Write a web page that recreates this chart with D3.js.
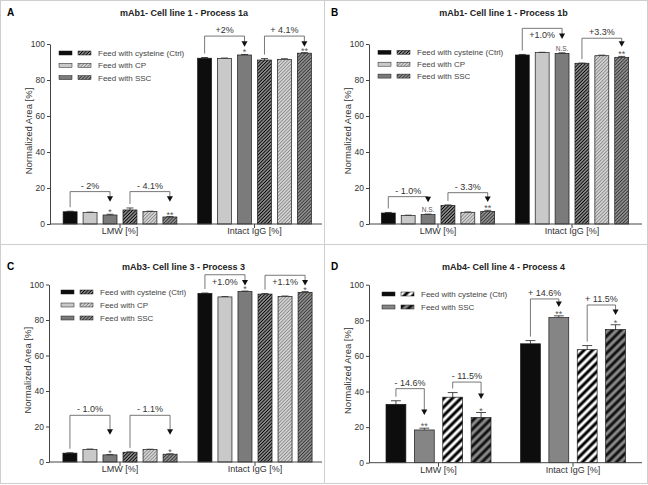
<!DOCTYPE html>
<html>
<head>
<meta charset="utf-8">
<script src="https://cdn.jsdelivr.net/npm/d3@7"></script>
<style>
body { margin: 0; background: #fff; }
svg { display: block; font-family: "Liberation Sans", Arial, sans-serif; }
</style>
</head>
<body>
<div id="chart"></div>
<script>
// ---- data ----
var categories = ["LMW [%]", "Intact IgG [%]"];
var yTicks = [0, 20, 40, 60, 80, 100];
var legend3 = ["Feed with cysteine (Ctrl)", "Feed with CP", "Feed with SSC"];
var legend2 = ["Feed with cysteine (Ctrl)", "Feed with SSC"];

var titleA = "mAb1- Cell line 1 - Process 1a";
var lmwA = [6.8, 6.4, 5.0, 7.8, 6.9, 3.9];
var lmwErrA = [0.3, 0.2, 0.4, 1.1, 0.2, 0.2];
var intactA = [92.1, 92.0, 93.9, 91.1, 91.5, 94.9];
var intactErrA = [0.4, 0.2, 0.3, 0.8, 0.3, 0.3];
var bracketsA = [
    { cat: 0, from: 0, to: 2, level: 18, tip: 12.4, label: "- 2%", sig: "*" },
    { cat: 0, from: 3, to: 5, level: 18, tip: 12.4, label: "- 4.1%", sig: "**" },
    { cat: 1, from: 0, to: 2, level: 104.4, tip: 98.5, label: "+2%", sig: "*" },
    { cat: 1, from: 3, to: 5, level: 104.4, tip: 98.5, label: "+ 4.1%", sig: "**" }
];

var titleB = "mAb1- Cell line 1 - Process 1b";
var lmwB = [6.1, 4.7, 5.2, 10.3, 6.5, 7.0];
var lmwErrB = [0.3, 0.2, 0.3, 0.3, 0.2, 0.6];
var intactB = [93.9, 95.2, 94.8, 89.3, 93.5, 92.6];
var intactErrB = [0.3, 0.2, 0.3, 0.1, 0.3, 0.5];
var bracketsB = [
    { cat: 0, from: 0, to: 2, level: 15.2, tip: 12.1, label: "- 1.0%", sig: "N.S." },
    { cat: 0, from: 3, to: 5, level: 17.4, tip: 12.2, label: "- 3.3%", sig: "**" },
    { cat: 1, from: 0, to: 2, level: 108.7, tip: 102.8, label: "+1.0%", sig: "N.S.", below: true },
    { cat: 1, from: 3, to: 5, level: 103.2, tip: 98.5, label: "+3.3%", sig: "**" }
];

var titleC = "mAb3- Cell line 3 - Process 3";
var lmwC = [5.0, 7.0, 4.0, 5.5, 7.0, 4.4];
var lmwErrC = [0.2, 0.3, 0.2, 0.2, 0.2, 0.2];
var intactC = [95.0, 93.0, 96.0, 94.6, 93.3, 95.6];
var intactErrC = [0.2, 0.2, 0.3, 0.3, 0.2, 0.4];
var bracketsC = [
    { cat: 0, from: 0, to: 2, level: 26.3, tip: 15.4, label: "- 1.0%", sig: "*" },
    { cat: 0, from: 3, to: 5, level: 26.3, tip: 15.4, label: "- 1.1%", sig: "*" },
    { cat: 1, from: 0, to: 2, level: 105.5, tip: 99.5, label: "+1.0%", sig: "*", below: true },
    { cat: 1, from: 3, to: 5, level: 105.2, tip: 99.5, label: "+1.1%", sig: "*", below: true }
];

var titleD = "mAb4- Cell line 4 - Process 4";
var lmwD = [32.8, 18.4, 36.8, 25.4];
var lmwErrD = [2.0, 1.0, 2.6, 2.8];
var intactD = [66.8, 81.5, 63.5, 74.8];
var intactErrD = [1.8, 1.0, 2.3, 2.7];
var bracketsD = [
    { cat: 0, from: 0, to: 1, level: 41.6, tip: 26.8, label: "- 14.6%", sig: "**" },
    { cat: 0, from: 2, to: 3, level: 45.3, tip: 35.8, label: "- 11.5%", sig: "*" },
    { cat: 1, from: 0, to: 1, level: 92, tip: 87.5, label: "+ 14.6%", sig: "**" },
    { cat: 1, from: 2, to: 3, level: 88.6, tip: 83, label: "+ 11.5%", sig: "*" }
];

// ---- styles ----
var fills6 = ["#0d0d0d", "#c9c9c9", "#7b7b7b", "url(#hatchBlack)", "url(#hatchLight)", "url(#hatchGray)"];
var fills4 = ["#0d0d0d", "#858585", "url(#hatchBW)", "url(#hatchGrayBold)"];

var svgWidth = 648;
var svgHeight = 485;

var svg = d3.select("#chart")
    .append("svg")
    .attr("width", svgWidth)
    .attr("height", svgHeight);

var defs = svg.append("defs");

function addHatch(id, bg, fg, size, lw) {
    var pat = defs.append("pattern")
        .attr("id", id)
        .attr("patternUnits", "userSpaceOnUse")
        .attr("width", size)
        .attr("height", size)
        .attr("patternTransform", "rotate(45)");
    pat.append("rect").attr("width", size).attr("height", size).attr("fill", bg);
    pat.append("line")
        .attr("x1", size / 2).attr("x2", size / 2)
        .attr("y1", 0).attr("y2", size)
        .attr("stroke", fg)
        .attr("stroke-width", lw);
}
addHatch("hatchBlack", "#d8d8d8", "#000", 2.4, 1.4);
addHatch("hatchLight", "#e2e2e2", "#888", 2.4, 1.1);
addHatch("hatchGray", "#a8a8a8", "#353535", 2.4, 1.2);
addHatch("hatchBW", "#fff", "#000", 6, 3);
addHatch("hatchGrayBold", "#8a8a8a", "#111", 6, 3);

// frame lines between panels
svg.append("rect")
    .attr("x", 0.5).attr("y", 0.5)
    .attr("width", svgWidth - 1).attr("height", svgHeight - 2)
    .attr("fill", "none").attr("stroke", "#cfcfcf");
svg.append("line").attr("x1", 324.5).attr("x2", 324.5).attr("y1", 0).attr("y2", svgHeight - 1)
    .attr("stroke", "#cfcfcf");
svg.append("line").attr("x1", 0).attr("x2", svgWidth).attr("y1", 244.5).attr("y2", 244.5)
    .attr("stroke", "#cfcfcf");

var panels = [
    { letter: "A", letterX: 7, title: titleA, titleY: 16, left: 50, right: 322, top: 44, bottom: 224,
      band: [52.75, 321.75], values: [lmwA, intactA], errors: [lmwErrA, intactErrA], fills: fills6,
      legend: legend3, legendX: 59, legendY: 53, legendStep: 12.3, brackets: bracketsA },
    { letter: "B", letterX: 331, title: titleB, titleY: 16, left: 369, right: 642, top: 44, bottom: 224,
      band: [371, 639], values: [lmwB, intactB], errors: [lmwErrB, intactErrB], fills: fills6,
      legend: legend3, legendX: 378, legendY: 52.3, legendStep: 11.9, brackets: bracketsB },
    { letter: "C", letterX: 7, title: titleC, titleY: 270, left: 49, right: 322, top: 284.5, bottom: 462,
      band: [52.5, 322.5], values: [lmwC, intactC], errors: [lmwErrC, intactErrC], fills: fills6,
      legend: legend3, legendX: 61, legendY: 292, legendStep: 13, brackets: bracketsC },
    { letter: "D", letterX: 331, title: titleD, titleY: 270, left: 369, right: 642, top: 284.7, bottom: 462.7,
      band: [371.25, 640.25], values: [lmwD, intactD], errors: [lmwErrD, intactErrD], fills: fills4,
      legend: legend2, legendX: 382, legendY: 294, legendStep: 13, brackets: bracketsD }
];

function drawPanel(p) {
    var g = svg.append("g");

    var y = d3.scaleLinear().domain([0, 100]).range([p.bottom, p.top]);
    var x0 = d3.scaleBand().domain(d3.range(categories.length)).range(p.band);
    var x1 = d3.scaleBand()
        .domain(d3.range(p.fills.length))
        .range([0, x0.bandwidth()])
        .paddingInner(0.3)
        .paddingOuter(0.52);

    // panel letter + title
    g.append("text")
        .attr("x", p.letterX).attr("y", p.titleY)
        .attr("font-size", "10px").attr("font-weight", "bold")
        .text(p.letter);
    g.append("text")
        .attr("x", (p.left + p.right) / 2 - 2).attr("y", p.titleY)
        .attr("text-anchor", "middle")
        .attr("font-size", "9px").attr("font-weight", "bold")
        .attr("fill", "#222")
        .text(p.title);

    // bars
    categories.forEach(function (c, ci) {
        var grp = g.append("g").attr("transform", `translate(${x0(ci)},0)`);
        var vals = p.values[ci];
        var errs = p.errors[ci];

        grp.selectAll("line.err")
            .data(vals)
            .enter()
            .append("line")
            .attr("x1", (d, i) => x1(i) + x1.bandwidth() / 2)
            .attr("x2", (d, i) => x1(i) + x1.bandwidth() / 2)
            .attr("y1", d => y(d))
            .attr("y2", (d, i) => y(d + errs[i]))
            .attr("stroke", "#222").attr("stroke-width", 0.8);
        grp.selectAll("line.cap")
            .data(vals)
            .enter()
            .append("line")
            .attr("x1", (d, i) => x1(i) + x1.bandwidth() * 0.25)
            .attr("x2", (d, i) => x1(i) + x1.bandwidth() * 0.75)
            .attr("y1", (d, i) => y(d + errs[i]))
            .attr("y2", (d, i) => y(d + errs[i]))
            .attr("stroke", "#222").attr("stroke-width", 0.8);

        grp.selectAll("rect")
            .data(vals)
            .enter()
            .append("rect")
            .attr("x", (d, i) => x1(i))
            .attr("y", d => y(d))
            .attr("width", x1.bandwidth())
            .attr("height", d => y(0) - y(d))
            .attr("fill", (d, i) => p.fills[i])
            .attr("stroke", "#1a1a1a")
            .attr("stroke-width", 0.7);
    });

    // axes
    var leftAxis = d3.axisLeft(y).tickValues(yTicks).tickSize(3).tickSizeOuter(0).tickPadding(2);
    var ya = g.append("g").attr("transform", `translate(${p.left},0)`).call(leftAxis);
    ya.selectAll("text").attr("font-size", "8.5px").attr("fill", "#333").attr("font-family", null);
    ya.selectAll("line, path").attr("stroke", "#444");

    var bottomAxis = d3.axisBottom(x0).tickSize(4).tickPadding(0).tickFormat(i => categories[i]);
    var xa = g.append("g").attr("transform", `translate(0,${p.bottom})`).call(bottomAxis);
    xa.select(".domain").remove();
    xa.append("line").attr("x1", p.left).attr("x2", p.right).attr("stroke", "#444");
    xa.selectAll("text").attr("font-size", "9px").attr("fill", "#333").attr("font-family", null);
    xa.selectAll(".tick line").attr("stroke", "#444");

    g.append("text")
        .attr("transform", `translate(${p.left - 18.5},${(p.top + p.bottom) / 2 - 3}) rotate(-90)`)
        .attr("text-anchor", "middle")
        .attr("font-size", "9.5px")
        .attr("fill", "#333")
        .text("Normalized Area [%]");

    // legend
    p.legend.forEach(function (lab, i) {
        var ly = p.legendY + i * p.legendStep;
        g.append("rect").attr("x", p.legendX).attr("y", ly - 2).attr("width", 13).attr("height", 4)
            .attr("fill", p.fills[i]).attr("stroke", "#1a1a1a").attr("stroke-width", 0.5);
        g.append("rect").attr("x", p.legendX + 19).attr("y", ly - 2).attr("width", 13).attr("height", 4)
            .attr("fill", p.fills[i + p.legend.length]).attr("stroke", "#1a1a1a").attr("stroke-width", 0.5);
        g.append("text").attr("x", p.legendX + 39).attr("y", ly + 3)
            .attr("font-size", "8px").attr("fill", "#444")
            .text(lab);
    });

    // significance brackets
    p.brackets.forEach(function (b) {
        var vals = p.values[b.cat];
        var errs = p.errors[b.cat];
        var xa1 = x0(b.cat) + x1(b.from) + x1.bandwidth() / 2;
        var xa2 = x0(b.cat) + x1(b.to) + x1.bandwidth() / 2;
        var footY = y(vals[b.from] + errs[b.from]) - 4;
        var levelY = y(b.level);
        var tipY = y(b.tip);

        g.append("path")
            .attr("d", `M${xa1},${footY}V${levelY}H${xa2}V${tipY - 5}`)
            .attr("fill", "none")
            .attr("stroke", "#555")
            .attr("stroke-width", 0.8);
        g.append("path")
            .attr("d", `M${xa2 - 3},${tipY - 5.5}L${xa2 + 3},${tipY - 5.5}L${xa2},${tipY}Z`)
            .attr("fill", "#111");
        g.append("text")
            .attr("x", (xa1 + xa2) / 2)
            .attr("y", b.below ? levelY + 10 : levelY - 3)
            .attr("text-anchor", "middle")
            .attr("font-size", "9px")
            .attr("fill", "#333")
            .text(b.label);

        var topY = y(vals[b.to] + errs[b.to]);
        var isNS = b.sig === "N.S.";
        g.append("text")
            .attr("x", xa2)
            .attr("y", isNS ? topY - 2 : topY + 1)
            .attr("text-anchor", "middle")
            .attr("font-size", isNS ? "6.5px" : "9px")
            .attr("fill", "#555")
            .text(b.sig);
    });
}

panels.forEach(drawPanel);
</script>
</body>
</html>
